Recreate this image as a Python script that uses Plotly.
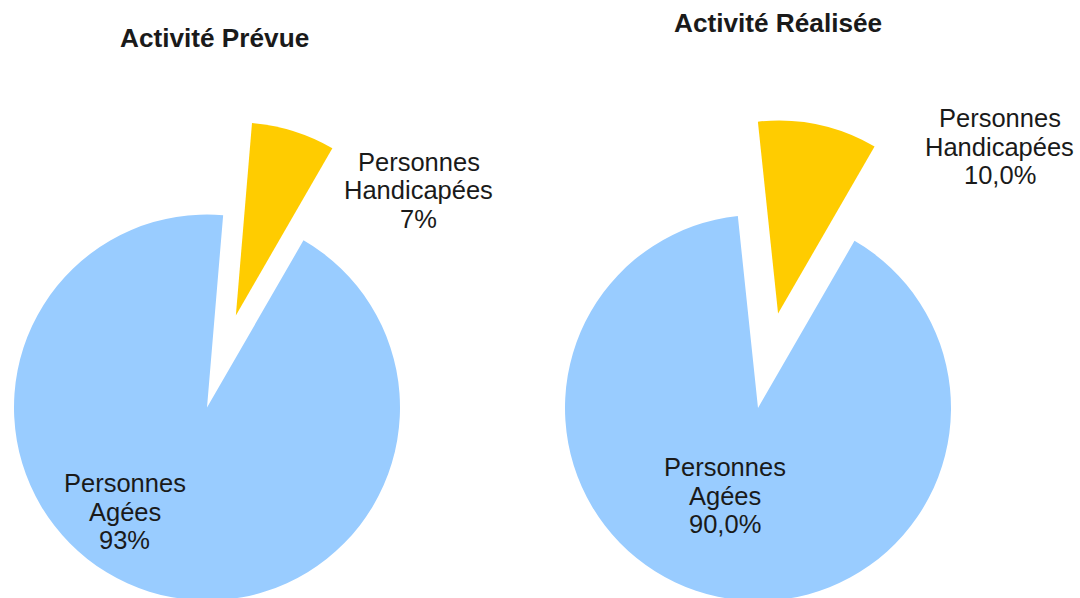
import math
import plotly.graph_objects as go

W, H = 1080, 598          # visible window
FIG_H = 612               # figure a bit taller: the pies run off the bottom edge

# ---- data ----
categories = ["Personnes Agées", "Personnes Handicapées"]
label_lines = [["Personnes", "Agées"], ["Personnes", "Handicapées"]]
titles = ["Activité Prévue", "Activité Réalisée"]
planned = [93, 7]
realised = [90.0, 10.0]
planned_text = ["93%", "7%"]
realised_text = ["90,0%", "10,0%"]

# ---- style ----
colors = ["#99CCFF", "#FFCC00"]
CLEAR = "rgba(0,0,0,0)"
PULL = 0.5          # explode fraction of the small slice
ROTATION = 30       # start angle (deg, clockwise from 12 o'clock)
FONT = "Arial, Liberation Sans, sans-serif"
TXT = "#1a1a1a"
LABEL_SIZE = 25.5
TITLE_SIZE = 26.2
LINE_GAP = 28.7

charts = [
    dict(values=planned, texts=planned_text, title=titles[0],
         cx=207, cy=407.5, r=193,
         title_pos=(214, 46.7),
         label_pos=[(124.7, 491.7), (418.5, 170.6)]),
    dict(values=realised, texts=realised_text, title=titles[1],
         cx=758, cy=408, r=193,
         title_pos=(777.5, 31.8),
         label_pos=[(724.7, 475.7), (999.5, 126.7)]),
]


def domain_for(cx, cy, r):
    x0 = max(0.0, (cx - r) / W)
    x1 = min(1.0, (cx + r) / W)
    y0 = max(0.0, (FIG_H - (cy + r)) / FIG_H)
    y1 = min(1.0, (FIG_H - (cy - r)) / FIG_H)
    return dict(x=[x0, x1], y=[y0, y1])


def px(x):
    return x / W


def py(y):
    return 1 - y / FIG_H


fig = go.Figure()
annotations = []

for ch in charts:
    vals = ch["values"]
    total = sum(vals)
    cx, cy, r = ch["cx"], ch["cy"], ch["r"]

    # main (blue) pie: small slice hidden
    fig.add_trace(go.Pie(
        labels=categories, values=vals, sort=False, direction="clockwise",
        rotation=ROTATION, textinfo="none", hoverinfo="label+percent",
        marker=dict(colors=[colors[0], CLEAR], line=dict(width=0)),
        domain=domain_for(cx, cy, r), showlegend=False,
    ))

    # exploded (yellow) slice: same pie shifted along slice bisector
    mid = math.radians(ROTATION + (vals[0] + vals[1] / 2) / total * 360)
    d = PULL * r
    ecx = cx + d * math.sin(mid)
    ecy = cy - d * math.cos(mid)
    fig.add_trace(go.Pie(
        labels=categories, values=vals, sort=False, direction="clockwise",
        rotation=ROTATION, textinfo="none", hoverinfo="label+percent",
        marker=dict(colors=[CLEAR, colors[1]], line=dict(width=0)),
        domain=domain_for(ecx, ecy, r), showlegend=False,
    ))

    # title
    tx, tb = ch["title_pos"]
    annotations.append(dict(
        text="<b>" + ch["title"] + "</b>", x=px(tx), y=py(tb - 0.3465 * TITLE_SIZE),
        xref="paper", yref="paper", xanchor="center", yanchor="middle",
        showarrow=False, font=dict(family=FONT, size=TITLE_SIZE, color=TXT)))

    # slice labels
    for i in range(2):
        lx, lb = ch["label_pos"][i]
        lines = label_lines[i] + [ch["texts"][i]]
        for k, line in enumerate(lines):
            base = lb + k * LINE_GAP
            annotations.append(dict(
                text=line, x=px(lx), y=py(base - 0.3465 * LABEL_SIZE),
                xref="paper", yref="paper", xanchor="center", yanchor="middle",
                showarrow=False, font=dict(family=FONT, size=LABEL_SIZE, color=TXT)))

fig.update_layout(
    width=W, height=FIG_H, autosize=False,
    margin=dict(l=0, r=0, t=0, b=0, pad=0),
    paper_bgcolor="white", plot_bgcolor="white",
    annotations=annotations,
)

fig.write_html(
    "out.html",
    config={"displayModeBar": False},
    post_script="document.body.style.margin='0';document.body.style.overflow='hidden';"
                "document.documentElement.style.overflow='hidden';",
)
